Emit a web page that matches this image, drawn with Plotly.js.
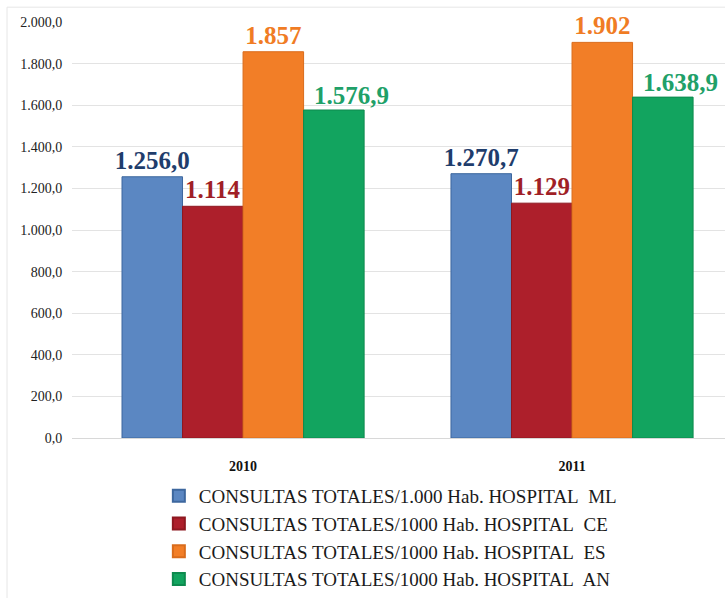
<!DOCTYPE html>
<html>
<head>
<meta charset="utf-8">
<script src="https://cdn.plot.ly/plotly-3.0.1.min.js"></script>
<style>
  html, body { margin: 0; padding: 0; background: #ffffff; }
  #chart { width: 725px; height: 598px; }
</style>
</head>
<body>
<div id="chart"></div>
<script>
// Consultas totales por 1.000 habitantes, por hospital y año
const years = ['2010', '2011'];

const seriesNames = [
  'CONSULTAS TOTALES/1.000 Hab. HOSPITAL\u00a0 ML',
  'CONSULTAS TOTALES/1000 Hab. HOSPITAL\u00a0 CE',
  'CONSULTAS TOTALES/1000 Hab. HOSPITAL\u00a0 ES',
  'CONSULTAS TOTALES/1000 Hab. HOSPITAL\u00a0 AN'
];

const valuesML = [1256.0, 1270.7];
const valuesCE = [1114, 1129];
const valuesES = [1857, 1902];
const valuesAN = [1576.9, 1638.9];

const labelsML = ['1.256,0', '1.270,7'];
const labelsCE = ['1.114', '1.129'];
const labelsES = ['1.857', '1.902'];
const labelsAN = ['1.576,9', '1.638,9'];

const barColors  = ['#5b87c2', '#ad1f2b', '#f27e27', '#12a45f'];
const edgeColors = ['#3d679e', '#8e1820', '#d96c1c', '#0d8a4e'];
const labelColors = ['#1f3d6c', '#a01f26', '#f07c24', '#20a068'];

const allValues = [valuesML, valuesCE, valuesES, valuesAN];
const allLabels = [labelsML, labelsCE, labelsES, labelsAN];

const serif = 'Liberation Serif';
const labelFont = (i) => ({ family: serif, size: 25, color: labelColors[i], weight: 'bold' });

// The last series carries its value labels as annotations, nudged to the right of each bar
const annotatedSeries = 3;

const traces = allValues.map((vals, i) => ({
  type: 'bar',
  name: seriesNames[i],
  x: years,
  y: vals,
  text: i === annotatedSeries ? undefined : allLabels[i],
  textposition: i === annotatedSeries ? 'none' : 'outside',
  textangle: 0,
  constraintext: 'none',
  cliponaxis: false,
  textfont: labelFont(i),
  marker: { color: barColors[i], line: { color: edgeColors[i], width: 1 } },
  hoverinfo: 'x+y'
}));

// On a category axis, annotation x is the category's serial index
const annotations = years.map((yr, j) => ({
  x: j,
  y: allValues[annotatedSeries][j],
  xref: 'x',
  yref: 'y',
  text: allLabels[annotatedSeries][j],
  showarrow: false,
  xanchor: 'center',
  yanchor: 'bottom',
  xshift: 108,
  yshift: -1,
  font: labelFont(annotatedSeries)
}));

const layout = {
  width: 725,
  height: 598,
  margin: { l: 72, r: 0, t: 22, b: 155 },
  font: { family: serif },
  paper_bgcolor: '#ffffff',
  plot_bgcolor: '#ffffff',
  separators: ',.',
  barmode: 'group',
  bargap: 0.264,
  bargroupgap: 0,
  showlegend: true,
  legend: {
    orientation: 'v',
    x: 0.133,
    xanchor: 'left',
    y: -0.095,
    yanchor: 'top',
    font: { family: serif, size: 19, color: '#1a1a1a' },
    itemsizing: 'constant',
    tracegroupgap: 0,
    bgcolor: 'rgba(0,0,0,0)'
  },
  xaxis: {
    type: 'category',
    range: [-0.52, 1.465],
    showgrid: false,
    zeroline: false,
    showline: false,
    ticks: 'outside',
    ticklen: 15,
    tickcolor: 'rgba(0,0,0,0)',
    tickfont: { family: serif, size: 14, color: '#111111', weight: 'bold' }
  },
  yaxis: {
    range: [0, 2000],
    dtick: 200,
    tickformat: ',.1f',
    showgrid: true,
    gridcolor: '#e3e3e3',
    gridwidth: 1,
    zeroline: true,
    zerolinecolor: '#d8d8d8',
    zerolinewidth: 1,
    showline: false,
    ticks: 'outside',
    ticklen: 6,
    tickcolor: 'rgba(0,0,0,0)',
    tickfont: { family: serif, size: 14, color: '#222222' }
  },
  annotations: annotations,
  shapes: [
    {
      type: 'line', xref: 'paper', yref: 'paper',
      x0: (7 - 72) / 653, x1: (7 - 72) / 653,
      y0: -2, y1: 1 + 15 / 421,
      line: { color: '#e6e6e6', width: 1 }
    },
    {
      type: 'line', xref: 'paper', yref: 'paper',
      x0: (7 - 72) / 653, x1: 1,
      y0: 1 + 15 / 421, y1: 1 + 15 / 421,
      line: { color: '#e6e6e6', width: 1 }
    }
  ]
};

Plotly.newPlot('chart', traces, layout, { displayModeBar: false, staticPlot: true });
</script>
</body>
</html>
